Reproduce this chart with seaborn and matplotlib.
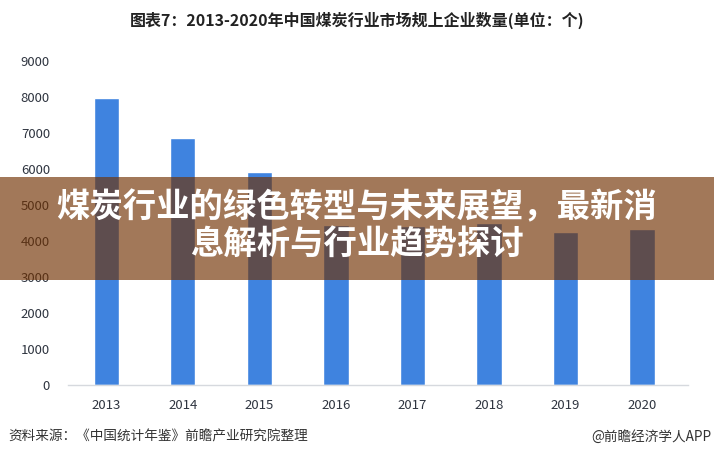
import pandas as pd
import matplotlib
matplotlib.use("Agg")
import matplotlib.pyplot as plt
import seaborn as sns

# Chart values
years = ["2013", "2014", "2015", "2016", "2017", "2018", "2019", "2020"]
counts = [7970, 6860, 5915, 4450, 4425, 4490, 4250, 4335]
y_ticks = [0, 1000, 2000, 3000, 4000, 5000, 6000, 7000, 8000, 9000]

title = "图表7：2013-2020年中国煤炭行业市场规上企业数量(单位：个)"
banner_lines = ["煤炭行业的绿色转型与未来展望，最新消", "息解析与行业趋势探讨"]
source_text = "资料来源：《中国统计年鉴》前瞻产业研究院整理"
credit_text = "@前瞻经济学人APP"

df = pd.DataFrame({"year": years, "count": counts})

sns.set_theme(style="white")
plt.rcParams["font.family"] = ["Noto Sans CJK SC", "DejaVu Sans"]

fig = plt.figure(figsize=(7.14, 4.58), dpi=100)
ax = fig.add_axes([68 / 714, 73 / 458, 620 / 714, 324.3 / 458])

sns.barplot(data=df, x="year", y="count", color="#3f83df", saturation=1,
            width=0.33, ax=ax)

ax.set_xlim(-0.5, 7.6)
ax.set_ylim(0, 9000)
ax.set_yticks(y_ticks)
ax.set_yticklabels([str(t) for t in y_ticks], fontsize=9.5, color="#2f3540")
ax.set_xticks(range(len(years)))
ax.set_xticklabels(years, fontsize=9.5, color="#2f3540")
ax.tick_params(axis="y", length=0, pad=13)
ax.tick_params(axis="x", length=0, pad=10)
ax.set_xlabel("")
ax.set_ylabel("")
for side in ["top", "right", "left"]:
    ax.spines[side].set_visible(False)
ax.spines["bottom"].set_color("#d6d9de")
ax.spines["bottom"].set_linewidth(1)

# Title
fig.text(0.5, 1 - 20 / 458, title, ha="center", va="center",
         fontsize=11.5, fontweight="bold", color="#222222")

# Semi-transparent banner across the chart
fig.patches.append(plt.Rectangle((0, 1 - 280 / 458), 1, 103 / 458,
                                 transform=fig.transFigure, facecolor="#703000",
                                 alpha=0.65, edgecolor="none", zorder=5))
fig.text(0.5, 1 - 208 / 458, banner_lines[0], ha="center", va="center",
         fontsize=24, fontweight="bold", color="white", zorder=6)
fig.text(0.5, 1 - 244 / 458, banner_lines[1], ha="center", va="center",
         fontsize=24, fontweight="bold", color="white", zorder=6)

# Footer
fig.text(8 / 714, 1 - 437 / 458, source_text, ha="left", va="center",
         fontsize=9.8, color="#333333")
fig.text(711 / 714, 1 - 437 / 458, credit_text, ha="right", va="center",
         fontsize=9.8, color="#333333")

fig.savefig("out.png", dpi=100)
